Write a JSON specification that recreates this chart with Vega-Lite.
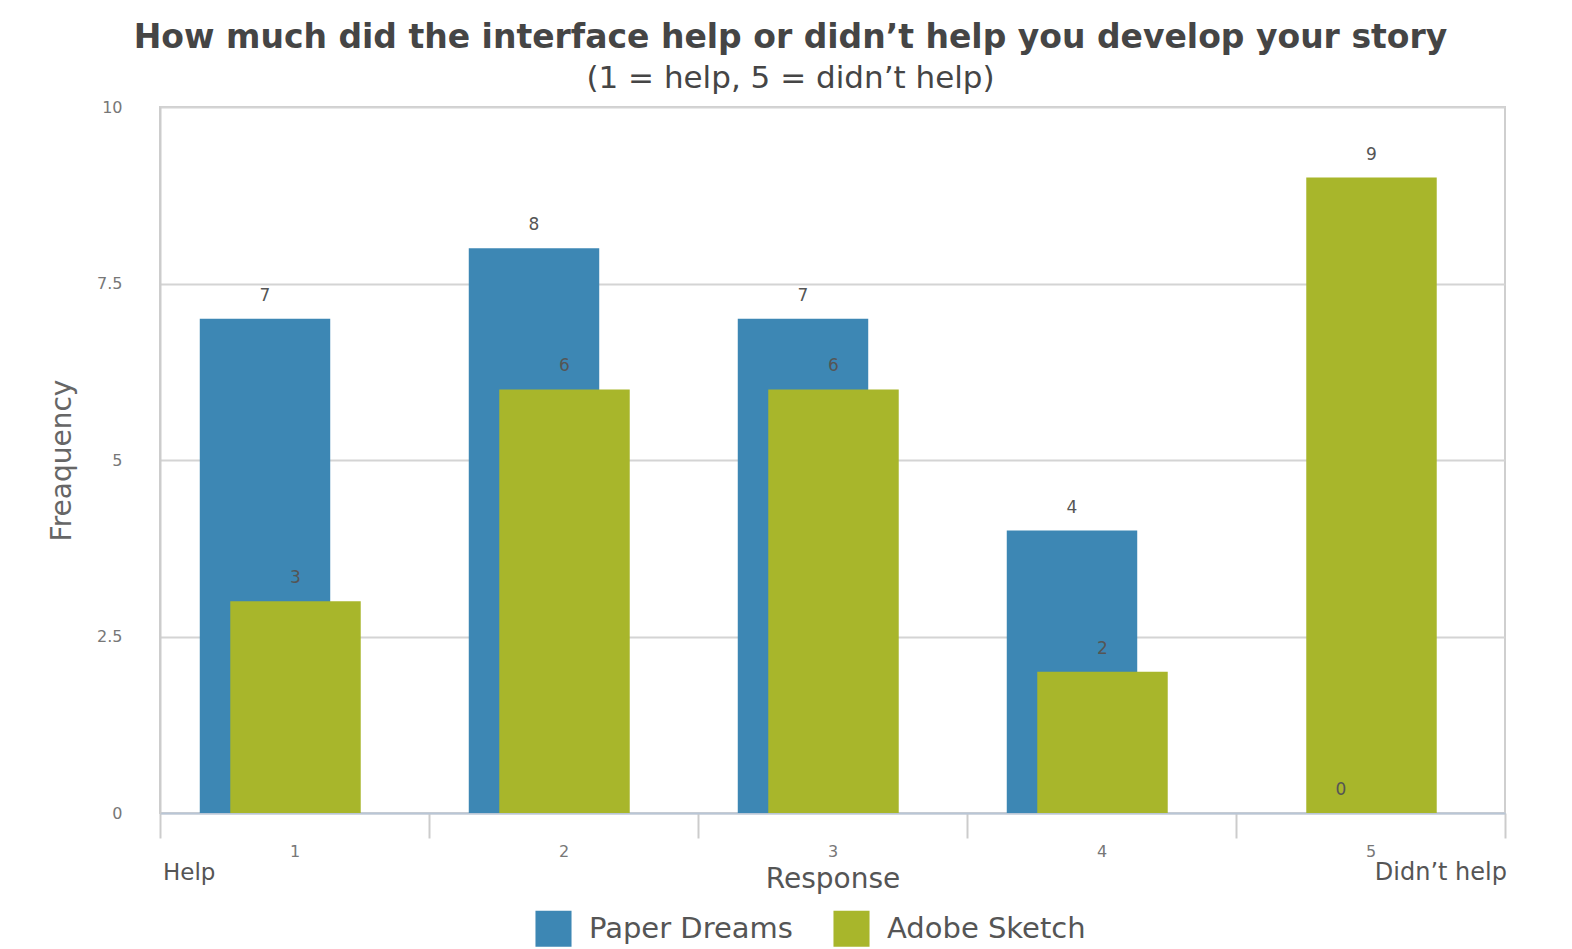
{
  "$schema": "https://vega.github.io/schema/vega-lite/v6.json",
  "width": 1345,
  "height": 706,
  "autosize": {"type": "none"},
  "padding": {"left": 160, "top": 107, "right": 67, "bottom": 136},
  "background": "white",
  "config": {
    "font": "DejaVu Sans",
    "view": {"stroke": "#cfcfcf", "strokeWidth": 2}
  },
  "title": {
    "text": "How much did the interface help or didn’t help you develop your story",
    "subtitle": "(1 = help,  5 = didn’t help)",
    "font": "DejaVu Sans",
    "fontSize": 33,
    "fontWeight": "bold",
    "color": "#454545",
    "subtitleFont": "DejaVu Sans",
    "subtitleFontSize": 31,
    "subtitleColor": "#454545",
    "subtitlePadding": 9,
    "anchor": "middle",
    "frame": "group",
    "dx": -42,
    "offset": 5
  },
  "data": {
    "values": [
      {"Response": "1", "Series": "Paper Dreams", "Frequency": 7},
      {"Response": "2", "Series": "Paper Dreams", "Frequency": 8},
      {"Response": "3", "Series": "Paper Dreams", "Frequency": 7},
      {"Response": "4", "Series": "Paper Dreams", "Frequency": 4},
      {"Response": "5", "Series": "Paper Dreams", "Frequency": 0},
      {"Response": "1", "Series": "Adobe Sketch", "Frequency": 3},
      {"Response": "2", "Series": "Adobe Sketch", "Frequency": 6},
      {"Response": "3", "Series": "Adobe Sketch", "Frequency": 6},
      {"Response": "4", "Series": "Adobe Sketch", "Frequency": 2},
      {"Response": "5", "Series": "Adobe Sketch", "Frequency": 9}
    ]
  },
  "encoding": {
    "x": {
      "field": "Response",
      "type": "nominal",
      "scale": {"paddingInner": 0, "paddingOuter": 0},
      "axis": {
        "labelAngle": 0,
        "labelFontSize": 16,
        "labelColor": "#777777",
        "labelPadding": 5,
        "tickBand": "extent",
        "tickSize": 25,
        "tickWidth": 2,
        "tickColor": "#cccccc",
        "domainColor": "#b9c6d6",
        "domainWidth": 2,
        "title": "Response",
        "titleFontSize": 28,
        "titleFontWeight": "normal",
        "titleColor": "#555555",
        "titlePadding": 6
      }
    },
    "y": {
      "field": "Frequency",
      "type": "quantitative",
      "scale": {"domain": [0, 10]},
      "axis": {
        "values": [0, 2.5, 5, 7.5, 10],
        "format": ".1~f",
        "labelFontSize": 16,
        "labelColor": "#777777",
        "labelPadding": 38,
        "ticks": false,
        "gridColor": "#d4d4d4",
        "gridWidth": 2,
        "domainColor": "#cccccc",
        "domainWidth": 2,
        "title": "Freaquency",
        "titleFontSize": 28,
        "titleFontWeight": "normal",
        "titleColor": "#666666",
        "titlePadding": 20
      }
    }
  },
  "layer": [
    {
      "transform": [{"filter": "datum.Series === 'Paper Dreams'"}],
      "mark": {"type": "bar", "width": {"band": 0.485}, "xOffset": -29.5},
      "encoding": {
        "color": {
          "field": "Series",
          "type": "nominal",
          "scale": {"domain": ["Paper Dreams", "Adobe Sketch"], "range": ["#3d87b4", "#a8b62b"]},
          "legend": {
            "orient": "none",
            "legendX": 375,
            "legendY": 803,
            "direction": "horizontal",
            "title": null,
            "padding": 0,
            "symbolType": "square",
            "symbolSize": 1300,
            "symbolStrokeWidth": 0,
            "symbolOpacity": 1,
            "labelFontSize": 29,
            "labelColor": "#555555",
            "labelLimit": 400,
            "labelOffset": 17,
            "columnPadding": 40
          }
        }
      }
    },
    {
      "transform": [{"filter": "datum.Series === 'Adobe Sketch'"}],
      "mark": {"type": "bar", "width": {"band": 0.485}, "xOffset": 1},
      "encoding": {
        "color": {"field": "Series", "type": "nominal"}
      }
    },
    {
      "transform": [{"filter": "datum.Series === 'Paper Dreams'"}],
      "mark": {"type": "text", "xOffset": -29.5, "dy": -23, "fontSize": 17, "color": "#555555"},
      "encoding": {"text": {"field": "Frequency", "type": "quantitative"}}
    },
    {
      "transform": [{"filter": "datum.Series === 'Adobe Sketch'"}],
      "mark": {"type": "text", "xOffset": 1, "dy": -23, "fontSize": 17, "color": "#555555"},
      "encoding": {"text": {"field": "Frequency", "type": "quantitative"}}
    },
    {
      "transform": [{"filter": "datum.Series === 'Paper Dreams' && datum.Response === '1'"}],
      "mark": {"type": "text", "text": "Help", "align": "left", "baseline": "middle", "dx": 3, "dy": 60, "fontSize": 23, "fontWeight": "normal", "color": "#555555"},
      "encoding": {
        "x": {"field": "Response", "type": "nominal", "bandPosition": 0},
        "y": {"datum": 0, "type": "quantitative"}
      }
    },
    {
      "transform": [{"filter": "datum.Series === 'Paper Dreams' && datum.Response === '5'"}],
      "mark": {"type": "text", "text": "Didn’t help", "align": "right", "baseline": "middle", "dx": 2, "dy": 60, "fontSize": 24, "fontWeight": "normal", "color": "#555555"},
      "encoding": {
        "x": {"field": "Response", "type": "nominal", "bandPosition": 1},
        "y": {"datum": 0, "type": "quantitative"}
      }
    }
  ]
}
